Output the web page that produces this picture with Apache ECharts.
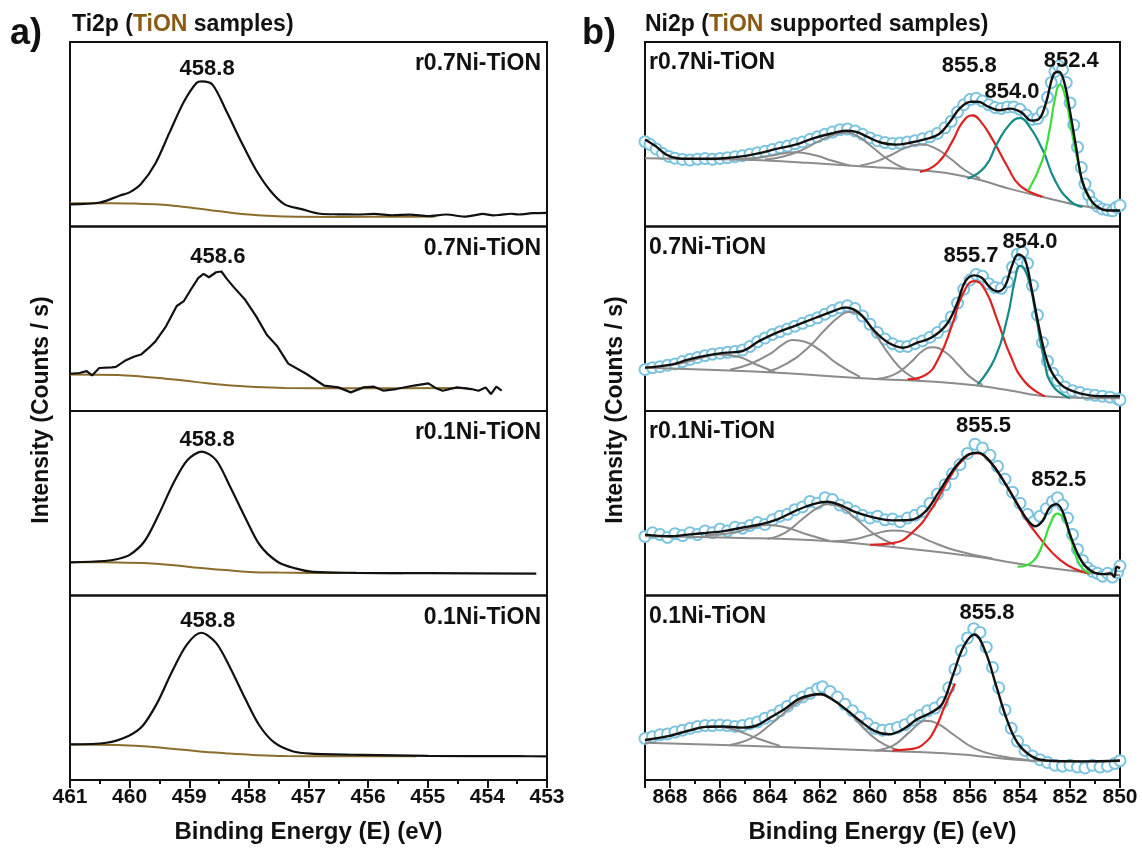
<!DOCTYPE html>
<html>
<head>
<meta charset="utf-8">
<script src="https://cdn.jsdelivr.net/npm/echarts@6/dist/echarts.min.js"></script>
<style>html,body{margin:0;padding:0;background:#fff;} #main{width:1142px;height:850px;}</style>
</head>
<body>
<div id="main"></div>
<script>
// ---------- panel a) Ti2p ----------
var samplesA = ['r0.7Ni-TiON', '0.7Ni-TiON', 'r0.1Ni-TiON', '0.1Ni-TiON'];
var ti_r07 = [[461,12],[460.5,13],[460.17,16.7],[460,18.5],[459.81,23],[459.57,34],[459.33,51],[459.09,67.6],[458.88,77.8],[458.79,78.7],[458.61,76.9],[458.37,62],[458.12,45.4],[457.88,30.6],[457.64,19.4],[457.4,12],[457.1,9.3],[456.8,6.9],[456.5,6.6],[456.2,6.5],[455.9,6.8],[455.59,6.1],[455.3,6.4],[454.99,5.6],[454.69,6.5],[454.39,5.4],[454.2,6.2],[454.08,6.8],[453.9,6.0],[453.78,6.3],[453.6,6.9],[453.48,6.5],[453.25,7.2],[453,7.4]];
var ti_r07_bg = [[461,12.6],[460.3,12.6],[459.93,12.4],[459.5,11.9],[459.21,11.1],[458.9,9.9],[458.61,8.7],[458.3,7.5],[458,6.5],[457.7,5.8],[457.4,5.4],[456.5,5.2],[455.5,5.3],[454.87,5.4]];
var ti_07 = [[461,20.2],[460.84,20.6],[460.72,21.6],[460.63,19.3],[460.51,23.3],[460.3,23.6],[460.23,23.9],[460.08,27.2],[459.93,29.4],[459.81,30.6],[459.69,33.9],[459.57,37.6],[459.39,45.9],[459.21,56.9],[459.09,59.6],[458.97,66],[458.85,72],[458.76,74.3],[458.67,72.5],[458.55,75.2],[458.46,75.6],[458.37,71.6],[458.25,67],[458.07,60.6],[457.88,51.4],[457.7,41.3],[457.52,34.9],[457.34,25.7],[457.04,20.2],[456.74,13.8],[456.5,12.8],[456.29,10.1],[456.08,12.8],[455.9,13.2],[455.74,11],[455.53,11.9],[455.23,13.8],[454.99,15],[454.87,12.5],[454.75,11],[454.51,12.8],[454.27,11.9],[454.15,11],[454.03,12.8],[453.94,9.2],[453.85,13.2],[453.76,11]];
var ti_07_bg = [[461,19.8],[460.2,19.5],[459.81,18.7],[459.4,17.5],[459.09,16.5],[458.7,15],[458.3,13.8],[457.9,13],[457.4,12.5],[456.2,12.3],[454.33,12.4]];
var ti_r01 = [[461,18],[460.42,18.7],[460.2,19.8],[460,22],[459.75,29.4],[459.51,44],[459.27,60.6],[459.03,73.4],[458.79,78],[458.55,73.4],[458.31,58.7],[458.06,42.2],[457.82,27.5],[457.52,18.3],[457.22,14.7],[456.92,12.8],[456.2,12.3],[455,12.1],[453.18,11.9]];
var ti_r01_bg = [[461,18],[460.2,17.9],[459.63,17.4],[459.2,16.3],[458.85,15],[458.4,13.8],[458,12.8],[457.5,12.4],[456.5,12.2],[455.41,12.1]];
var ti_01 = [[461,19.3],[460.39,20.2],[460.02,23.9],[459.78,29.4],[459.53,42.2],[459.29,58.7],[459.04,73.4],[458.8,79.8],[458.55,74.3],[458.31,60.6],[458.06,44],[457.82,29.4],[457.57,20.2],[457.27,15.6],[456.96,14.3],[456.1,13.6],[455,13.1],[453.5,12.9],[453,12.8]];
var ti_01_bg = [[461,19.3],[460.2,19],[459.78,18.3],[459.3,17],[458.86,15.6],[458.4,14.5],[457.94,13.6],[457.4,13],[456.5,12.9],[455.19,12.9]];
var peaksA = [[[458.7,85.2,'458.8']],[[458.52,83.5,'458.6']],[[458.7,84.4,'458.8']],[[458.69,86.2,'458.8']]];

// ---------- panel b) Ni2p ----------
var samplesB = ['r0.7Ni-TiON', '0.7Ni-TiON', 'r0.1Ni-TiON', '0.1Ni-TiON'];
var ni_r07_pts = [[869,46],[868.8,44.5],[868.55,42],[868.3,39.5],[868.05,38],[867.8,37],[867.5,36.3],[867.2,36],[866.9,36.5],[866.6,36.8],[866.3,36.4],[866,36.9],[865.7,37.3],[865.4,37.8],[865.1,38.4],[864.8,39.2],[864.5,40],[864.2,40.8],[863.9,41.8],[863.6,42.8],[863.3,43.6],[863,44.8],[862.7,45.8],[862.4,47.3],[862.1,48.6],[861.8,50],[861.5,51.2],[861.2,52.5],[860.9,52.8],[860.6,51.8],[860.3,50],[860,48],[859.7,46.5],[859.4,45.5],[859.1,45],[858.8,45.2],[858.5,45.8],[858.2,46.5],[857.9,47.5],[857.6,48.6],[857.3,50.5],[857,53.5],[856.75,57],[856.5,62],[856.25,66],[856,68.8],[855.75,69.5],[855.5,68],[855.25,66],[855,64.5],[854.75,64],[854.5,64.8],[854.25,64.8],[854,63.5],[853.75,60.5],[853.5,58],[853.3,58.5],[853.1,62],[852.9,70],[852.75,78],[852.6,84],[852.45,87],[852.3,85],[852.15,78],[852,67],[851.85,55],[851.7,43],[851.55,32],[851.4,23],[851.25,17],[851.1,13],[850.9,11],[850.7,9.5],[850.5,9],[850.3,8.5],[850.15,10.5],[850,11.5]];
var ni_r07_env = [[869,47.2],[868.57,43.5],[868.14,38.9],[867.71,37],[867.28,36.7],[866.56,36.7],[865.85,37],[865.13,38],[864.42,39.8],[863.7,42.2],[862.98,44.4],[862.27,47.8],[861.55,50.4],[860.98,51.9],[860.55,51.3],[860.12,48.7],[859.54,45.4],[858.97,44.4],[858.4,45.4],[857.82,47.2],[857.25,50],[856.82,56.5],[856.39,64.3],[855.96,67.6],[855.68,67.6],[855.25,64.8],[854.82,63],[854.39,63.9],[853.96,62],[853.53,57.4],[853.24,58.3],[852.95,67.6],[852.66,82.4],[852.45,83.9],[852.24,78.7],[852.02,63.9],[851.74,41.7],[851.52,25],[851.23,15.7],[850.95,11.1],[850.52,8.7],[850,8.7]];
var ni_r07_bg = [[869,37],[867,36.6],[864.7,36.1],[862.5,34.5],[860.1,32.4],[857.25,29.6],[855.8,25.9],[854.4,20.4],[853,15.7],[851.5,11.1],[850,8.3]];
var ni_r07_gray = [
  [[865.5,36.3],[864.5,37.2],[863.8,38.8],[863,40.2],[862.2,38.6],[861.5,35.6],[860.8,33]],
  [[864.2,36.3],[863.5,37.8],[862.8,41],[862,46.5],[861.4,50],[861,50.9],[860.5,49],[860,44],[859.5,38.5],[859,34],[858.5,31]],
  [[860.4,33],[859.8,35],[859.2,38.5],[858.6,42.5],[858,44.4],[857.4,42.5],[856.8,37],[856.2,30.5],[855.6,26]]
];
var ni_r07_red = [[858,29.6],[857.3,34.3],[856.7,46.3],[856.3,56.5],[855.9,60.2],[855.6,57.4],[855.1,47.2],[854.5,32.4],[854,22.2],[853.1,16.1]];
var ni_r07_teal = [[856.1,25.9],[855.4,32.4],[854.9,45.4],[854.4,55.6],[854,58.7],[853.7,55.6],[853.1,41.7],[852.6,25],[852,13.9],[851.5,10.6]];
var ni_r07_green = [[853.67,19.4],[853.1,36.1],[852.81,52.8],[852.6,69.4],[852.41,76.9],[852.17,69.4],[851.95,52.8],[851.67,34.3],[851.38,19.4],[850.95,10.6]];

var ni_07_pts = [[869,22.5],[868.7,23.5],[868.4,24],[868.1,24.8],[867.8,25.5],[867.5,26.8],[867.2,28],[866.9,29],[866.6,30],[866.3,30.8],[866,31.3],[865.7,31.8],[865.4,32.2],[865.1,33],[864.8,35],[864.5,37.5],[864.2,39.5],[863.9,41.5],[863.6,43],[863.3,44.5],[863,46],[862.7,47.5],[862.4,49],[862.1,50.5],[861.8,52.5],[861.5,54.5],[861.2,56],[860.9,57],[860.6,55.5],[860.3,51.5],[860,47],[859.7,42.5],[859.4,39],[859.1,36.5],[858.8,35],[858.5,35],[858.2,36.5],[857.9,38],[857.6,40],[857.3,42.5],[857,46],[856.75,51],[856.5,58.5],[856.25,66],[856,71],[855.75,74],[855.5,73],[855.25,69],[855,67],[854.75,66.5],[854.5,70],[854.3,78],[854.1,85],[853.9,86],[853.7,80],[853.5,68],[853.3,52],[853.1,37],[852.9,27],[852.7,20.5],[852.5,16.5],[852.2,13],[851.9,11],[851.6,10],[851.3,9],[851,8.5],[850.7,8],[850.4,7.5],[850.1,6.5],[850,6]];
var ni_07_env = [[869,23.5],[868,25],[867.28,27.8],[866.56,30],[865.85,31.5],[865.13,32.4],[864.42,38],[863.7,42.6],[862.98,46.3],[862.27,50],[861.55,53.7],[860.98,56.1],[860.4,52.8],[859.83,43.5],[859.26,37],[858.68,34.3],[858.11,37],[857.54,39.8],[856.97,46.3],[856.54,57.4],[856.18,70.4],[855.82,73.5],[855.53,72.2],[855.18,66.7],[854.89,64.8],[854.6,67.6],[854.32,78.7],[854.07,84.8],[853.81,82.4],[853.53,65.7],[853.24,45.4],[852.95,28.7],[852.66,19.4],[852.24,13],[851.52,9.3],[850.81,8],[850,8]];
var ni_07_bg = [[869,23.5],[864.42,21.3],[860.1,17.6],[857.25,15.7],[855.8,13.9],[854.4,11.1],[853,8],[850,6.9]];
var ni_07_gray = [
  [[868.3,24.5],[867.5,26],[866.7,29],[866,30.6],[865.3,29.5],[864.6,25.5],[863.8,21.1]],
  [[865.6,22.4],[864.8,25.5],[864,31],[863.5,36],[863.1,38.5],[862.6,37.5],[862,33],[861.3,25.5],[860.4,18.5]],
  [[864.1,21.1],[863.3,26],[862.5,34],[861.8,44],[861.2,51.5],[860.8,53.7],[860.3,51],[859.8,42],[859.2,30],[858.6,21],[858,16.5]],
  [[859.7,17.5],[859,20],[858.4,26],[857.9,32.5],[857.5,34.6],[857,32],[856.5,25.5],[856,18.5],[855.5,14.2]]
];
var ni_07_red = [[858.5,17.2],[857.8,19.4],[857.25,28.7],[856.7,47.2],[856.3,63],[855.82,70.4],[855.4,65.7],[854.9,49],[854.4,30.6],[853.8,15.7],[853,8]];
var ni_07_teal = [[855.7,14.3],[855,28.7],[854.5,50.9],[854.2,71.3],[854,78.7],[853.7,73.1],[853.4,54.6],[853.05,28.7],[852.7,13.9],[852,6.9]];

var ni_r01_pts = [[869,32],[868.7,34],[868.4,33],[868.1,31.5],[867.8,33.5],[867.5,32.5],[867.2,34],[866.9,33],[866.6,35],[866.3,34],[866,36],[865.7,35],[865.4,37],[865.1,36.5],[864.8,38],[864.5,39.5],[864.2,38.5],[863.9,41],[863.6,43],[863.3,44],[863,46.5],[862.7,48],[862.4,51],[862.1,50],[861.8,53],[861.5,52],[861.2,49],[860.9,47.5],[860.6,45.5],[860.3,43.5],[860,42],[859.7,43],[859.4,41],[859.1,41.5],[858.8,40],[858.5,42],[858.2,43.5],[857.9,45.5],[857.6,50],[857.3,55],[857,60],[856.7,66],[856.4,71],[856.1,77],[855.8,82],[855.5,80],[855.2,76],[854.9,70],[854.6,63],[854.3,56],[854,50],[853.7,44],[853.45,40],[853.2,43],[852.95,47],[852.7,51],[852.5,53],[852.3,49],[852.1,42],[851.9,33],[851.7,25],[851.5,19],[851.3,15],[851.1,13],[850.9,12],[850.7,10.5],[850.5,12],[850.3,10],[850.1,12.5],[850,16]];
var ni_r01_env = [[869,33],[868,32.1],[867.28,33],[866.56,33.9],[865.85,34.9],[865.13,36.7],[864.42,38.5],[863.7,41.3],[862.98,45.9],[862.27,49.5],[861.69,50.8],[861.12,48.6],[860.55,45],[859.83,42.2],[859.11,40.7],[858.4,40.9],[857.82,45],[857.25,56],[856.68,67.9],[856.1,76.1],[855.68,77.4],[855.25,73.4],[854.67,62.4],[854.1,49.5],[853.67,40.4],[853.38,37.6],[853.1,40.4],[852.81,47.7],[852.55,49.5],[852.31,45.9],[851.95,31.2],[851.52,18.3],[851.09,12.8],[850.66,11.6],[850.37,12],[850.23,10.1],[850.13,15.6],[850,14.7]];
var ni_r01_bg = [[869,32.1],[865.1,31.2],[861.6,29.4],[858.7,25.7],[855.8,21.1],[853.7,16.5],[851.5,12.8],[850,11]];
var ni_r01_gray = [
  [[866.6,32.7],[865.6,33.7],[864.8,36.5],[864.1,38.2],[863.4,37],[862.6,33.5],[861.6,29.5]],
  [[864.1,30.8],[863.4,34],[862.7,41.5],[862.1,47.5],[861.7,49.5],[861.2,48],[860.6,42],[859.8,33],[859,27.5]],
  [[861.5,29.4],[860.6,30.5],[859.8,33.5],[859.1,35.2],[858.4,34],[857.6,29.5],[856.6,24.5],[855.1,20]]
];
var ni_r01_red = [[860,27.5],[859.1,28.4],[858.25,34.9],[857.5,47.7],[856.8,64.2],[856.3,73.4],[855.75,77.1],[855.25,73.4],[854.5,58.7],[853.8,42.2],[853.1,29.4],[852.4,19.3],[851.7,13.8],[851.2,11.9]];
var ni_r01_green = [[854.1,15.6],[853.5,18.3],[853.1,27.5],[852.8,38.5],[852.5,44.4],[852.2,40.4],[851.95,29.4],[851.6,16.5],[851.2,11.9]];

var ni_01_pts = [[869,22.5],[868.7,23.5],[868.4,24.5],[868.1,25],[867.8,26],[867.5,27],[867.2,28],[866.9,29],[866.6,29.5],[866.3,29.5],[866,29.8],[865.7,29.5],[865.4,29],[865.1,29.5],[864.8,30.5],[864.5,31.5],[864.2,33.5],[863.9,35],[863.6,37.5],[863.3,40],[863,43],[862.7,45],[862.4,47],[862.1,49.5],[861.9,50.5],[861.6,48],[861.3,45],[861,41],[860.7,37.5],[860.4,34],[860.1,30.5],[859.8,28],[859.5,27],[859.2,27.5],[858.9,28.5],[858.6,30],[858.3,32.5],[858,35],[857.7,37.5],[857.4,39],[857.1,42],[856.85,50],[856.6,60],[856.35,70],[856.1,77],[855.85,82],[855.6,80],[855.35,72],[855.1,61],[854.85,50],[854.6,38],[854.35,28],[854.1,21],[853.8,16],[853.5,13],[853.2,11],[852.9,9.5],[852.6,8],[852.3,7.5],[852,8],[851.7,7],[851.4,6.5],[851.1,8],[850.8,7],[850.5,7.5],[850.2,9],[850,10.5]];
var ni_01_env = [[869,21.7],[868,23.9],[867.28,26.6],[866.56,28.8],[865.85,29],[865.13,28.4],[864.56,29.4],[863.99,33.9],[863.41,38.5],[862.84,44],[862.27,46.2],[861.98,46.6],[861.55,44],[860.98,38.5],[860.4,32.1],[859.83,26.6],[859.26,24.8],[858.68,27.5],[858.11,33],[857.54,36.7],[857.11,41.3],[856.68,56.9],[856.25,72.5],[855.82,78.9],[855.39,69.7],[854.96,51.4],[854.53,33],[854.1,20.2],[853.53,12.8],[852.95,10.6],[851.52,10.1],[850,10.6]];
var ni_01_bg = [[869,20.2],[864.4,18.3],[860.1,16.1],[857.25,14.7],[855.8,13.2],[853.7,10.6],[850,10.1]];
var ni_01_gray = [
  [[869,21.2],[868.2,23.5],[867.4,26.5],[866.4,29],[865.5,27.5],[864.5,22.5],[863.6,18.5]],
  [[865.6,19],[864.7,23],[863.9,31],[863.1,40],[862.5,45],[862.1,46.2],[861.6,44.5],[860.9,37.5],[860.1,26],[859.4,19],[858.7,15.8]],
  [[859.8,16],[859.1,18.5],[858.5,25],[858,31],[857.8,32.1],[857.3,30.5],[856.6,24],[855.8,17],[854.8,13],[853.7,10.8]]
];
var ni_01_red = [[859.1,16.1],[858.3,16.9],[857.8,20.2],[857.4,27.5],[857,40.4],[856.6,52.3]];

var peaksB = [
  [[856.03,87,'855.8'],[854.32,73,'854.0'],[851.95,89.8,'852.4']],
  [[855.96,84.3,'855.7'],[853.6,91.7,'854.0']],
  [[855.46,91.7,'855.5'],[852.45,62.4,'852.5']],
  [[855.32,90.8,'855.8']]
];

// ---------- layout ----------
var TOP = 42, H = 184.5;
var A_LEFT = 70, A_W = 477, B_LEFT = 645, B_W = 475;
var FONT = 'Arial, "Liberation Sans", sans-serif';
var INK = '#111';

var grids = [], xAxes = [], yAxes = [], series = [], graphics = [];

function addGrid(left, width, row, panelB) {
  var idx = grids.length;
  grids.push({left: left, width: width, top: TOP + row * H, height: H, show: true,
    borderColor: INK, borderWidth: 2, backgroundColor: 'transparent'});
  var bottom = row === 3;
  var ax = {type: 'value', gridIndex: idx, inverse: true,
    min: panelB ? 850 : 453, max: panelB ? 869 : 461, interval: panelB ? 2 : 1,
    show: bottom, splitLine: {show: false}};
  if (bottom) {
    ax.axisLine = {show: true, onZero: false, lineStyle: {color: INK, width: 2}};
    ax.axisTick = {show: true, inside: false, length: 8, lineStyle: {color: INK, width: 2}};
    ax.minorTick = {show: true, splitNumber: 2, length: 4, lineStyle: {color: INK, width: 2}};
    ax.minorSplitLine = {show: false};
    ax.axisLabel = {color: INK, fontSize: 21, fontWeight: 'bold', fontFamily: FONT, margin: 7,
      showMaxLabel: !panelB};
    ax.name = 'Binding Energy (E) (eV)';
    ax.nameLocation = 'middle';
    ax.nameGap = 40;
    ax.nameTextStyle = {color: INK, fontSize: 24, fontWeight: 'bold', fontFamily: FONT};
  }
  xAxes.push(ax);
  yAxes.push({type: 'value', gridIndex: idx, min: 0, max: 100, show: false});
  return idx;
}

function line(idx, data, color, width, smooth, z) {
  series.push({type: 'line', xAxisIndex: idx, yAxisIndex: idx, data: data, symbol: 'none',
    smooth: smooth, lineStyle: {color: color, width: width}, z: z, silent: true});
}

function labels(idx, pts) {
  series.push({type: 'scatter', xAxisIndex: idx, yAxisIndex: idx, data: pts, symbolSize: 0, z: 10,
    itemStyle: {opacity: 1},
    label: {show: true, position: 'inside', formatter: function (p) { return p.value[2]; },
      color: INK, opacity: 1, fontSize: 22, fontWeight: 'bold', fontFamily: FONT}});
}

var tiData = [ti_r07, ti_07, ti_r01, ti_01];
var tiBg = [ti_r07_bg, ti_07_bg, ti_r01_bg, ti_01_bg];
for (var i = 0; i < 4; i++) {
  var g = addGrid(A_LEFT, A_W, i, false);
  line(g, tiBg[i], '#8a6d2c', 2, 0.4, 2);
  line(g, tiData[i], INK, 2.2, i === 1 ? false : 0.3, 3);
  labels(g, peaksA[i]);
  graphics.push({type: 'text', x: A_LEFT + A_W - 6, y: TOP + i * H + 22,
    style: {text: samplesA[i], fill: INK, font: 'bold 23px ' + FONT, align: 'right', verticalAlign: 'middle'}});
}

var niPts = [ni_r07_pts, ni_07_pts, ni_r01_pts, ni_01_pts];
var niEnv = [ni_r07_env, ni_07_env, ni_r01_env, ni_01_env];
var niBg = [ni_r07_bg, ni_07_bg, ni_r01_bg, ni_01_bg];
var niGray = [ni_r07_gray, ni_07_gray, ni_r01_gray, ni_01_gray];
var niRed = [ni_r07_red, ni_07_red, ni_r01_red, ni_01_red];
var niTeal = [ni_r07_teal, ni_07_teal, null, null];
var niGreen = [ni_r07_green, null, ni_r01_green, null];
for (var j = 0; j < 4; j++) {
  var gb = addGrid(B_LEFT, B_W, j, true);
  series.push({type: 'scatter', xAxisIndex: gb, yAxisIndex: gb, data: niPts[j], symbol: 'emptyCircle',
    symbolSize: 11, z: 1, silent: true, itemStyle: {opacity: 1, color: '#7cc3df', borderColor: '#7cc3df', borderWidth: 1.2}});
  line(gb, niBg[j], '#8c8c8c', 2, 0.4, 2);
  niGray[j].forEach(function (c) { line(gb, c, '#8c8c8c', 2, 0.5, 2); });
  line(gb, niRed[j], '#dd2222', 2.2, 0.5, 3);
  if (niTeal[j]) line(gb, niTeal[j], '#178a86', 2.2, 0.5, 3);
  if (niGreen[j]) line(gb, niGreen[j], '#3ddc3d', 2.2, 0.5, 3);
  line(gb, niEnv[j], INK, 2.4, 0.4, 4);
  labels(gb, peaksB[j]);
  graphics.push({type: 'text', x: B_LEFT + 4, y: TOP + j * H + 21,
    style: {text: samplesB[j], fill: INK, font: 'bold 23px ' + FONT, align: 'left', verticalAlign: 'middle'}});
}

// panel tags, titles and y-axis titles
graphics.push(
  {type: 'text', x: 10, y: 34, style: {text: 'a)', fill: INK, font: 'bold 36px ' + FONT, verticalAlign: 'middle'}},
  {type: 'text', x: 582, y: 34, style: {text: 'b)', fill: INK, font: 'bold 36px ' + FONT, verticalAlign: 'middle'}},
  {type: 'text', x: 72, y: 25, style: {text: '{k|Ti2p (}{b|TiON}{k| samples)}', verticalAlign: 'middle',
    rich: {k: {fill: INK, font: 'bold 23px ' + FONT}, b: {fill: '#8b5a14', font: 'bold 23px ' + FONT}}}},
  {type: 'text', x: 645, y: 25, style: {text: '{k|Ni2p (}{b|TiON}{k| supported samples)}', verticalAlign: 'middle',
    rich: {k: {fill: INK, font: 'bold 23px ' + FONT}, b: {fill: '#8b5a14', font: 'bold 23px ' + FONT}}}},
  {type: 'text', x: 42, y: 410, rotation: Math.PI / 2, style: {text: 'Intensity (Counts / s)', fill: INK,
    font: 'bold 23px ' + FONT, align: 'center', verticalAlign: 'middle'}},
  {type: 'text', x: 616, y: 410, rotation: Math.PI / 2, style: {text: 'Intensity (Counts / s)', fill: INK,
    font: 'bold 23px ' + FONT, align: 'center', verticalAlign: 'middle'}}
);

var myChart = echarts.init(document.getElementById('main'));
myChart.setOption({
  animation: false,
  backgroundColor: '#fff',
  grid: grids,
  xAxis: xAxes,
  yAxis: yAxes,
  series: series,
  graphic: graphics
});
</script>
</body>
</html>
